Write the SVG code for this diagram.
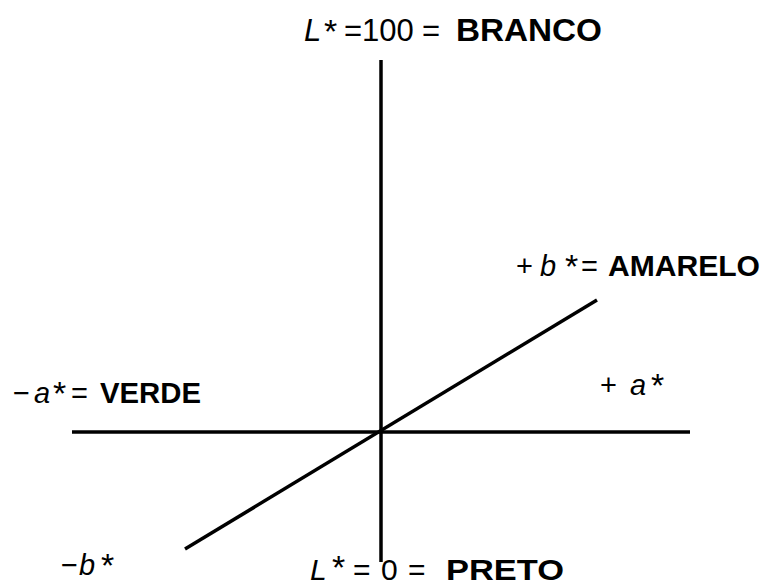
<svg xmlns="http://www.w3.org/2000/svg" width="767" height="586" viewBox="0 0 767 586">
<style>
.ax{stroke:#000;stroke-width:3.5;fill:none;stroke-linecap:butt}
text{font-family:"Liberation Sans",Arial,sans-serif;fill:#000}
.i{font-style:italic}
.b{font-weight:bold}
.s{font-size:34px}
</style>
<rect width="767" height="586" fill="#fff"/>
<g id="connectors">
<line class="ax" x1="381" y1="60" x2="381" y2="562"/>
<line class="ax" x1="72" y1="432" x2="690" y2="432"/>
<line class="ax" x1="185" y1="549" x2="597" y2="300"/>
</g>
<g id="L100" font-size="31">
<text x="304" y="41" class="i">L</text>
<text x="324" y="43" class="s">*</text>
<text x="344" y="41">=100</text>
<text x="422" y="41">=</text>
<text x="456" y="41" class="b" textLength="146" lengthAdjust="spacingAndGlyphs">BRANCO</text>
</g>
<g id="bplus" font-size="29">
<text x="516" y="276">+</text>
<text x="540" y="276" class="i">b</text>
<text x="565" y="278" class="s">*</text>
<text x="581" y="276">=</text>
<text x="608" y="276" class="b" textLength="152" lengthAdjust="spacingAndGlyphs">AMARELO</text>
</g>
<g id="aminus" font-size="29">
<text x="13" y="403">−</text>
<text x="34" y="403" class="i">a</text>
<text x="53" y="405" class="s">*</text>
<text x="71" y="403">=</text>
<text x="100" y="403" class="b" textLength="101" lengthAdjust="spacingAndGlyphs">VERDE</text>
</g>
<g id="aplus" font-size="29">
<text x="600" y="395">+</text>
<text x="630" y="395" class="i">a</text>
<text x="651" y="397" class="s">*</text>
</g>
<g id="bminus" font-size="29">
<text x="61" y="575">−</text>
<text x="79" y="575" class="i">b</text>
<text x="101" y="577" class="s">*</text>
</g>
<g id="L0" font-size="30">
<text x="310" y="580" class="i">L</text>
<text x="332" y="579" class="s">*</text>
<text x="353" y="580">=</text>
<text x="381" y="580">0</text>
<text x="408" y="580">=</text>
<text x="446" y="580" class="b" textLength="118" lengthAdjust="spacingAndGlyphs">PRETO</text>
</g>
</svg>
